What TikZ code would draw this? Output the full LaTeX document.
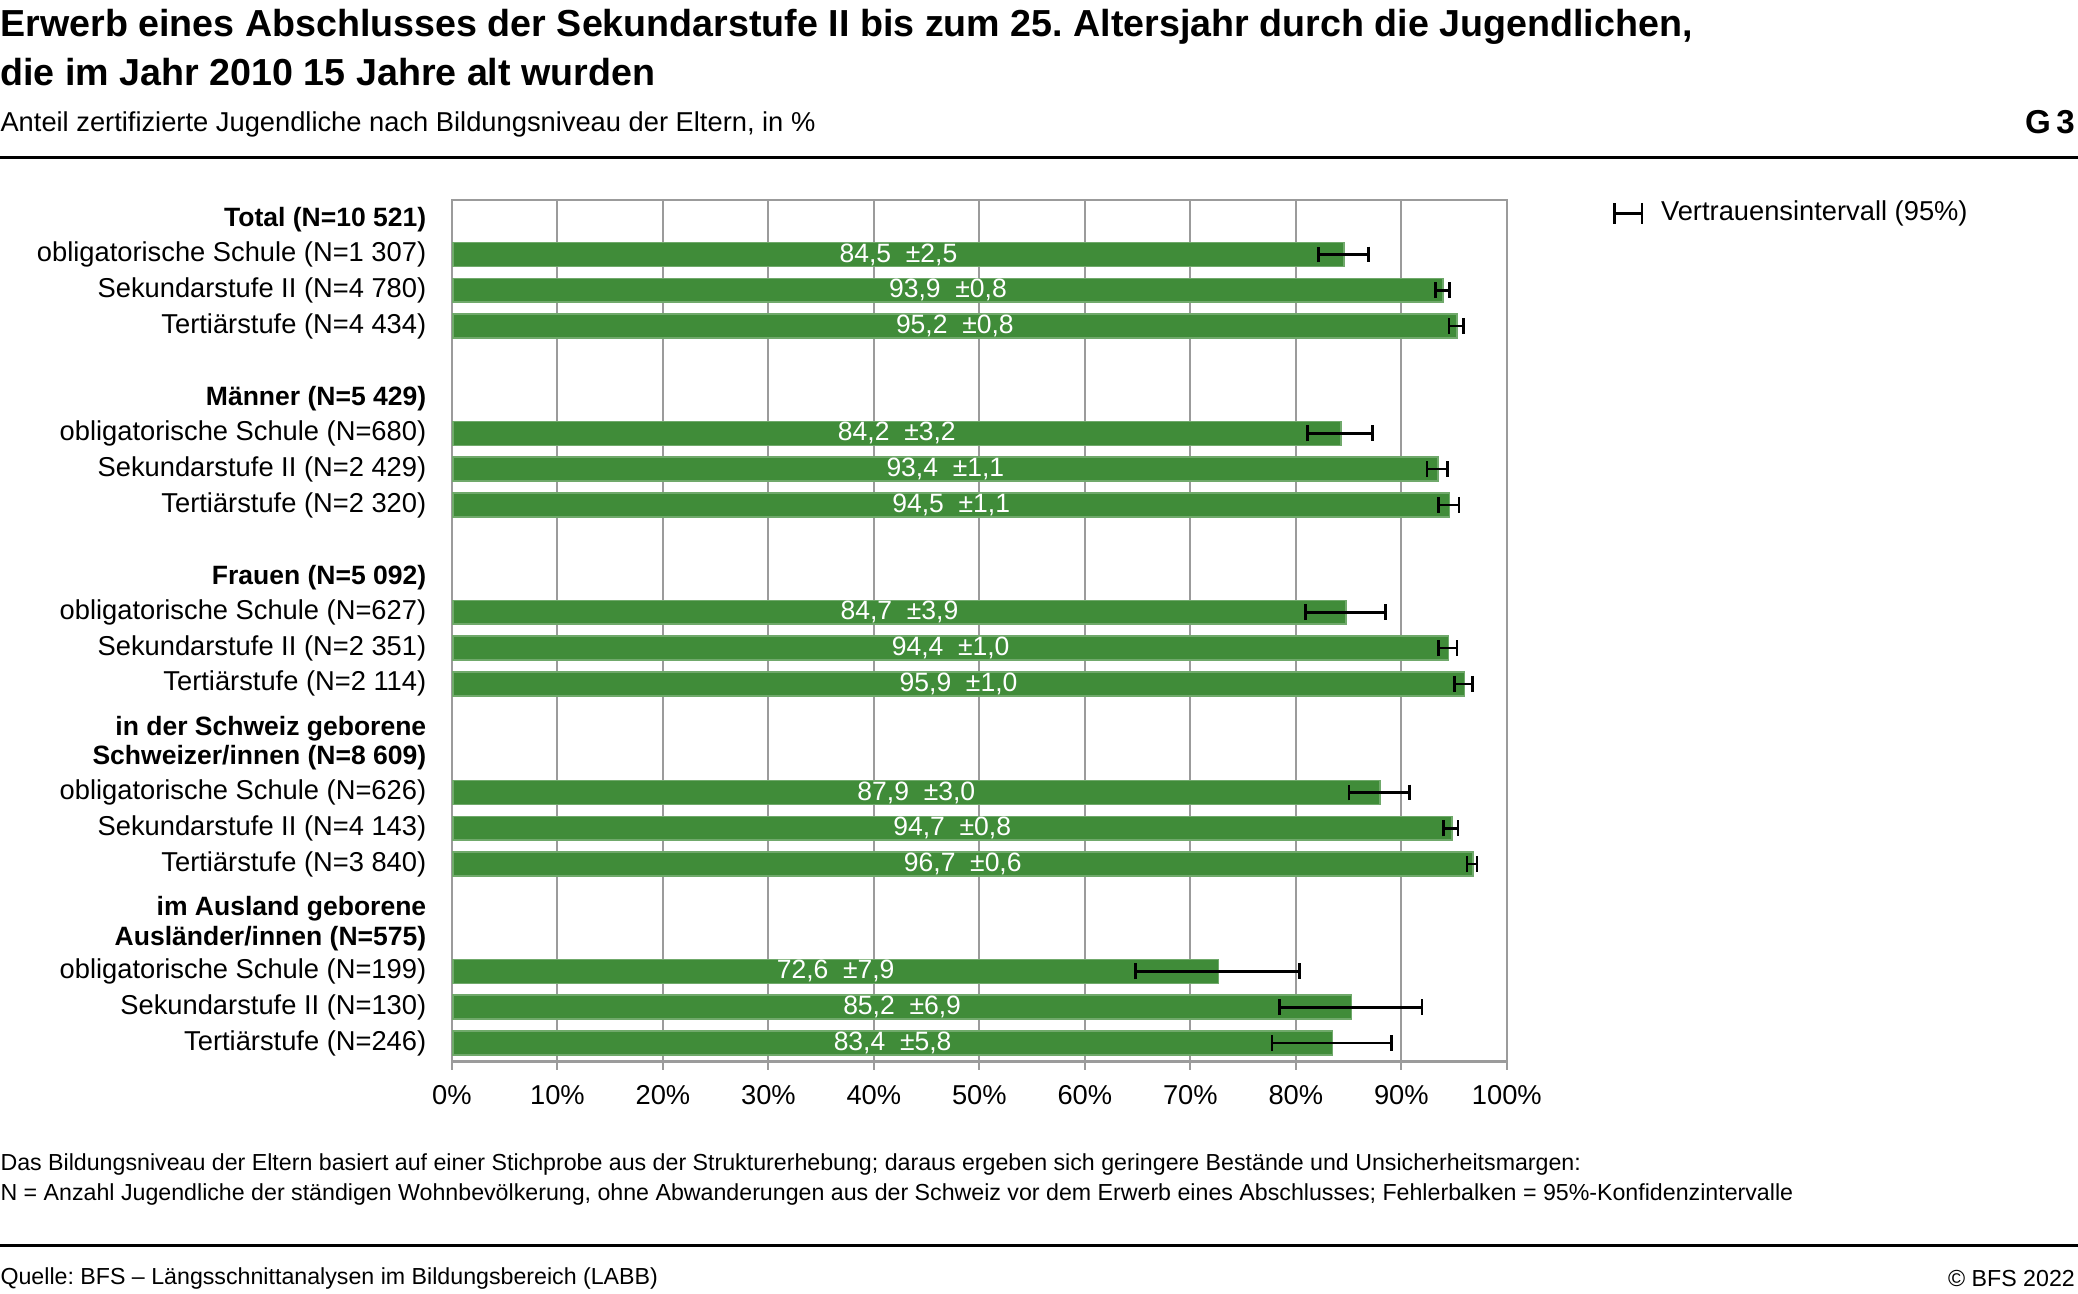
\documentclass[tikz,border=0pt]{standalone}
\usepackage{fontspec}
\setmainfont{Liberation Sans}
\usetikzlibrary{positioning,arrows.meta}
\definecolor{bfsgreen}{RGB}{64,140,57}
\definecolor{gridgray}{RGB}{155,155,155}
\frenchspacing

\begin{document}
\begin{tikzpicture}[x=0.5pt,y=-0.5pt]
       \tikzset{bar/.style={rectangle, anchor=west, fill=bfsgreen, draw=bfsgreen!75!white,
                line width=0.6pt, inner sep=0pt, minimum height=9pt}}
       \tikzset{value/.style={text=white, inner sep=0pt, font=\fontsize{10}{12}\selectfont}}
       \tikzset{cat/.style={anchor=east, inner sep=0pt, font=\fontsize{10.3}{12}\selectfont}}
       \tikzset{head/.style={anchor=east, inner sep=0pt, align=right,
                font=\bfseries\fontsize{10}{11}\selectfont}}
       \tikzset{errbar/.style={line width=1pt, {Bar[width=6pt]}-{Bar[width=6pt]}}}
       \tikzset{grid/.style={gridgray, line width=0.8pt}}
       \tikzset{note/.style={anchor=west, inner sep=0pt, font=\fontsize{8.75}{11}\selectfont}}

       \useasboundingbox (0,0) rectangle (1568,976);

       % header
       \node[anchor=west, inner sep=0pt, font=\bfseries\fontsize{14.2}{16}\selectfont] (title1) at (0,20)
            {Erwerb eines Abschlusses der Sekundarstufe II bis zum 25. Altersjahr durch die Jugendlichen,};
       \node[anchor=west, inner sep=0pt, font=\bfseries\fontsize{14.2}{16}\selectfont] (title2) at (0,54)
            {die im Jahr 2010 15 Jahre alt wurden};
       \node[note, font=\fontsize{10.3}{12}\selectfont] (subtitle) at (0,94)
            {Anteil zertifizierte Jugendliche nach Bildungsniveau der Eltern, in \%};
       \node[anchor=east, inner sep=0pt, font=\bfseries\fontsize{12.5}{15}\selectfont] (gnum) at (1566,92) {G\,3};
       \draw[line width=1pt] (0,119) -- (1568,119);

       % grid and axis
       \foreach \p in {1,...,9}
              \draw[grid] ({341+\p*79.6},151) -- ({341+\p*79.6},801);
       \draw[grid] (341,151) rectangle (1137,801);
       \draw[grid, line width=1.3pt] (341,801) -- (1137,801);
       \foreach \p in {0,...,10}{
              \pgfmathtruncatemacro{\pc}{\p*10}
              \draw[grid] ({341+\p*79.6},801) -- ({341+\p*79.6},807);
              \node[cat, anchor=center] (tick\p) at ({341+\p*79.6},826) {\pc\%};
       }

       % group headers
       \node[head] (total) at (322,166) {Total (N=10 521)};
       \node[head] (maenner) at (322,301) {Männer (N=5 429)};
       \node[head] (frauen) at (322,436) {Frauen (N=5 092)};
       \node[head] (schweiz) at (322,561) {in der Schweiz geborene\\Schweizer/innen (N=8 609)};
       \node[head] (ausland) at (322,697) {im Ausland geborene\\Ausländer/innen (N=575)};

       % category labels
       \foreach \i/\y/\t in {1/192/{obligatorische Schule (N=1 307)}, 2/219/{Sekundarstufe II (N=4 780)},
                 3/246/{Tertiärstufe (N=4 434)}, 4/327/{obligatorische Schule (N=680)},
                 5/354/{Sekundarstufe II (N=2 429)}, 6/381/{Tertiärstufe (N=2 320)},
                 7/462/{obligatorische Schule (N=627)}, 8/489/{Sekundarstufe II (N=2 351)},
                 9/516/{Tertiärstufe (N=2 114)}, 10/598/{obligatorische Schule (N=626)},
                 11/625/{Sekundarstufe II (N=4 143)}, 12/652/{Tertiärstufe (N=3 840)},
                 13/733/{obligatorische Schule (N=199)}, 14/760/{Sekundarstufe II (N=130)},
                 15/787/{Tertiärstufe (N=246)}}
              \node[cat] (cat\i) at (322,\y) {\t};

       % bars with confidence intervals
       \foreach \i/\y/\v/\e/\t in {1/192/84.5/2.5/{84,5\ \ ±2,5}, 2/219/93.9/0.8/{93,9\ \ ±0,8},
                 3/246/95.2/0.8/{95,2\ \ ±0,8}, 4/327/84.2/3.2/{84,2\ \ ±3,2},
                 5/354/93.4/1.1/{93,4\ \ ±1,1}, 6/381/94.5/1.1/{94,5\ \ ±1,1},
                 7/462/84.7/3.9/{84,7\ \ ±3,9}, 8/489/94.4/1.0/{94,4\ \ ±1,0},
                 9/516/95.9/1.0/{95,9\ \ ±1,0}, 10/598/87.9/3.0/{87,9\ \ ±3,0},
                 11/625/94.7/0.8/{94,7\ \ ±0,8}, 12/652/96.7/0.6/{96,7\ \ ±0,6},
                 13/733/72.6/7.9/{72,6\ \ ±7,9}, 14/760/85.2/6.9/{85,2\ \ ±6,9},
                 15/787/83.4/5.8/{83,4\ \ ±5,8}}{
              \node[bar, minimum width={\v*3.98pt}] (bar\i) at (341,\y) {};
              \node[value] (val\i) at (bar\i.center) {\t};
              \coordinate (lo\i) at ({341+(\v-\e)*7.96},\y);
              \coordinate (hi\i) at ({341+(\v+\e)*7.96},\y);
              \draw[errbar] (lo\i) -- (hi\i);
       }

       % legend
       \coordinate (leglo) at (1217,161);
       \coordinate (leghi) at (1240,161);
       \draw[line width=1pt, {Bar[width=8pt]}-{Bar[width=8pt]}] (leglo) -- (leghi);
       \node[cat, anchor=west, right=6.5pt of leghi] (legtext) {Vertrauensintervall (95\%)};

       % footer
       \node[note] (note1) at (0,879)
            {Das Bildungsniveau der Eltern basiert auf einer Stichprobe aus der Strukturerhebung; daraus ergeben sich geringere Bestände und Unsicherheitsmargen:};
       \node[note] (note2) at (0,901)
            {N = Anzahl Jugendliche der ständigen Wohnbevölkerung, ohne Abwanderungen aus der Schweiz vor dem Erwerb eines Abschlusses; Fehlerbalken = 95\%-Konfidenzintervalle};
       \draw[line width=1pt] (0,940) -- (1568,940);
       \node[note] (source) at (0,965) {Quelle: BFS – Längsschnittanalysen im Bildungsbereich (LABB)};
       \node[note, anchor=east] (copy) at (1566,965) {© BFS 2022};

\end{tikzpicture}
\end{document}
